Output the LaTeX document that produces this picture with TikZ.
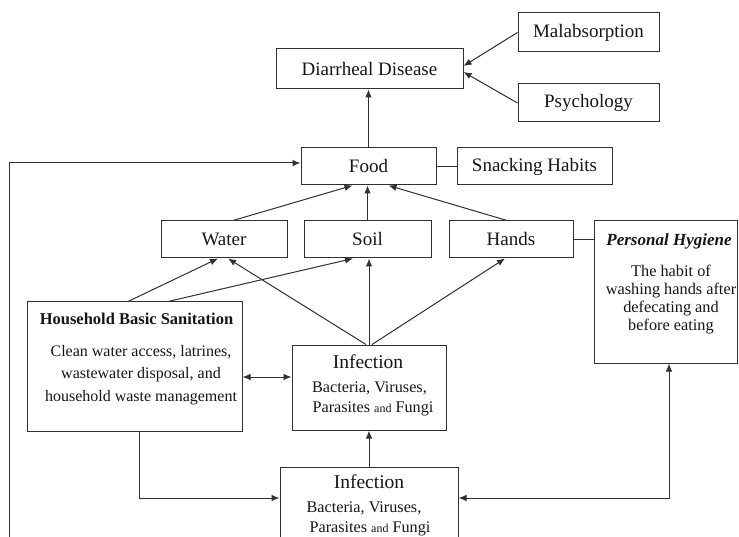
\documentclass[tikz,border=0pt]{standalone}
\usepackage{fontspec}
\setmainfont{Liberation Serif}
\usetikzlibrary{arrows.meta}
\definecolor{lc}{HTML}{303030}
\definecolor{tx}{HTML}{161616}
\begin{document}
\begin{tikzpicture}[x=1pt,y=-1pt,
  box/.style={draw=lc, line width=1pt, inner sep=0pt, text=tx, font=\fontsize{19}{21}\selectfont},
  frame/.style={draw=lc, line width=1pt, inner sep=0pt},
  txt/.style={inner sep=0pt, text=tx},
  plain/.style={draw=lc, line width=1pt},
  arr/.style={draw=lc, line width=1pt, -{Latex[length=8pt,width=6.5pt]}},
  darr/.style={draw=lc, line width=1pt, {Latex[length=8pt,width=6.5pt]}-{Latex[length=8pt,width=6.5pt]}}
]
\clip (0,0) rectangle (739,537);
\fill[white] (0,0) rectangle (739,537);

% boxes
\node[box, minimum width=187pt, minimum height=40pt] (dd) at (369.5,69) {Diarrheal Disease};
\node[box, minimum width=141pt, minimum height=39pt] (mal) at (588.5,32.5) {Malabsorption};
\node[box, minimum width=141pt, minimum height=38pt] (psy) at (588.5,103) {Psychology};
\node[box, minimum width=135pt, minimum height=37pt] (food) at (368.5,166.5) {Food};
\node[box, minimum width=155pt, minimum height=37pt] (snack) at (534.5,166.5) {Snacking Habits};
\node[box, minimum width=126pt, minimum height=37pt] (water) at (224,239.5) {Water};
\node[box, minimum width=127pt, minimum height=37pt] (soil) at (367.5,239.5) {Soil};
\node[box, minimum width=124pt, minimum height=37pt] (hands) at (511,239.5) {Hands};

\node[frame, minimum width=143pt, minimum height=142pt] (ph) at (665.5,292) {};
\node[txt, font=\fontsize{17}{20}\selectfont\bfseries\itshape] (pht) at (669,241) {Personal Hygiene};
\node[txt, align=center, font=\fontsize{16.3}{18}\selectfont] (phb) at (671,300)
  {The habit of\\washing hands after\\defecating and\\before eating};

\node[frame, minimum width=215pt, minimum height=129pt] (hbs) at (134.5,366.5) {};
\node[txt, font=\fontsize{16.5}{20}\selectfont\bfseries] (hbst) at (136.5,319) {Household Basic Sanitation};
\node[txt, align=center, font=\fontsize{16}{22.5}\selectfont] (hbsb) at (141,375)
  {Clean water access, latrines,\\wastewater disposal, and\\household waste management};

\node[frame, minimum width=154pt, minimum height=85pt] (inf1) at (369,387.5) {};
\node[txt, font=\fontsize{19.5}{21}\selectfont] (inf1a) at (368,362) {Infection};
\node[txt, font=\fontsize{16.2}{19}\selectfont] (inf1b) at (369.5,388) {Bacteria, Viruses,};
\node[txt, font=\fontsize{16.2}{19}\selectfont] (inf1c) at (373,409) {Parasites {\fontsize{12}{14}\selectfont and} Fungi};

\node[frame, minimum width=178pt, minimum height=93pt] (inf2) at (369,513.5) {};
\node[txt, font=\fontsize{19.5}{21}\selectfont] (inf2a) at (369,482) {Infection};
\node[txt, font=\fontsize{16.2}{19}\selectfont] (inf2b) at (364,508) {Bacteria, Viruses,};
\node[txt, font=\fontsize{16.2}{19}\selectfont] (inf2c) at (370,529) {Parasites {\fontsize{12}{14}\selectfont and} Fungi};

% connectors
\draw[arr] (food.north) -- (food.north |- dd.south);
\draw[arr] (mal.west) -- ([yshift=3pt]dd.east);
\draw[arr] (psy.west) -- ([yshift=-3pt]dd.east);
\draw[plain] (food.east) -- (snack.west);
\coordinate (lb) at (9,545);
\draw[arr] (lb) |- ([yshift=3.5pt]food.west);

\draw[arr] ([xshift=9pt]water.north) -- ([xshift=-16pt]food.south);
\draw[arr] (soil.north) -- (soil.north |- food.south);
\draw[arr] ([xshift=-4pt]hands.north) -- ([xshift=20pt]food.south);
\draw[plain] (hands.east) -- (hands.east -| ph.west);

\draw[arr] ([xshift=-6.5pt]hbs.north) -- ([xshift=-6pt]water.south);
\draw[arr] ([xshift=33.5pt]hbs.north) -- ([xshift=-14.5pt]soil.south);
\draw[arr] ([xshift=-3pt]inf1.north) -- ([xshift=4pt]water.south);
\draw[arr] (inf1.north) -- (inf1.north |- soil.south);
\draw[arr] ([xshift=3pt]inf1.north) -- ([xshift=-6pt]hands.south);

\draw[darr] ([yshift=-10.5pt]hbs.east) -- ([yshift=10.5pt]inf1.west);
\draw[arr] (inf2.north) -- (inf1.south);
\draw[arr] ([xshift=4.5pt]hbs.south) |- ([yshift=15.5pt]inf2.west);
\draw[darr] ([yshift=15.5pt]inf2.east) -| ([xshift=3.5pt]ph.south);
\end{tikzpicture}
\end{document}
